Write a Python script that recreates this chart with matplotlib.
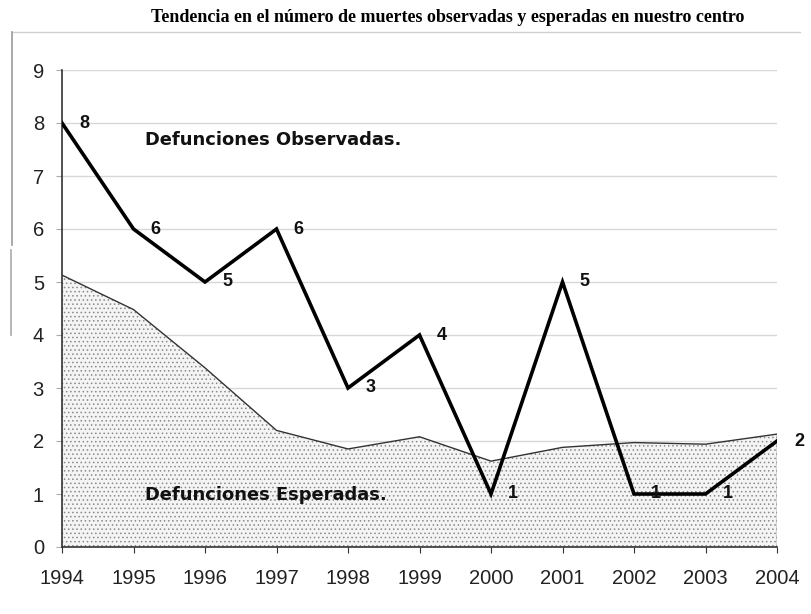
import matplotlib
matplotlib.use("Agg")
import matplotlib.pyplot as plt
from matplotlib.lines import Line2D

years = [1994, 1995, 1996, 1997, 1998, 1999, 2000, 2001, 2002, 2003, 2004]
observed = [8, 6, 5, 6, 3, 4, 1, 5, 1, 1, 2]
expected = [5.13, 4.48, 3.38, 2.2, 1.85, 2.08, 1.62, 1.88, 1.97, 1.94, 2.13]
title = "Tendencia en el número de muertes observadas y esperadas en nuestro centro"

plt.rcParams['hatch.color'] = '#8a8a8a'
plt.rcParams['hatch.linewidth'] = 0.6

fig = plt.figure(figsize=(8.11, 6.14), dpi=100)
ax = fig.add_axes([62/811, 67/614, 715/811, 477/614])

# faint outer frame pieces
fig.add_artist(Line2D([12/811, 800/811], [1 - 32/614, 1 - 32/614],
                      transform=fig.transFigure, color='#d0d0d0', linewidth=1.0))
fig.add_artist(Line2D([12/811, 12/811], [1 - 32/614, 1 - 245/614],
                      transform=fig.transFigure, color='#9a9a9a', linewidth=1.2))
fig.add_artist(Line2D([11/811, 11/811], [1 - 250/614, 1 - 335/614],
                      transform=fig.transFigure, color='#aaaaaa', linewidth=1.2))

for yv in range(1, 10):
    ax.axhline(yv, color='#d8d8d8', linewidth=1.0, zorder=0)

ax.fill_between(years, 0, expected, facecolor='#f4f4f4', hatch='....',
                edgecolor='#8a8a8a', linewidth=0, zorder=1)
ax.plot(years, expected, color='#333333', linewidth=1.0, zorder=2)
ax.plot([years[-1], years[-1]], [0, expected[-1]], color='#555555', linewidth=1.0, zorder=2)
ax.plot(years, observed, color='black', linewidth=2.6, zorder=3, solid_joinstyle='miter')

for x, y in zip(years, observed):
    ax.annotate(str(y), (x, y), xytext=(16, 0), textcoords='offset points',
                ha='center', va='center', fontsize=13, fontweight='bold',
                family='Liberation Sans', color='#111111', zorder=4)

ax.text(1995.16, 7.68, "Defunciones Observadas.", fontsize=12.9, fontweight='bold',
        family='DejaVu Sans', va='center', ha='left', color='#111111')
ax.text(1995.16, 0.98, "Defunciones Esperadas.", fontsize=12.9, fontweight='bold',
        family='DejaVu Sans', va='center', ha='left', color='#111111')

ax.set_xlim(1994, 2004)
ax.set_ylim(0, 9)
ax.set_xticks(years)
ax.set_yticks(range(0, 10))
ax.tick_params(axis='x', labelsize=14.5, pad=12, length=4, direction='out', color='#333333')
ax.tick_params(axis='y', labelsize=14.5, pad=9, length=4, color='#aaaaaa')
for lbl in ax.get_xticklabels() + ax.get_yticklabels():
    lbl.set_family('Liberation Sans')
    lbl.set_color('#222222')

for s in ['top', 'right']:
    ax.spines[s].set_visible(False)
ax.spines['left'].set_color('#333333')
ax.spines['bottom'].set_color('#333333')
ax.spines['left'].set_linewidth(1.2)
ax.spines['bottom'].set_linewidth(1.2)
ax.set_facecolor('white')

fig.text(448/811, 1 - 18/614, title, ha='center', va='center', fontsize=13,
         fontweight='bold', family='Liberation Serif')

fig.savefig("out.png", dpi=100)
